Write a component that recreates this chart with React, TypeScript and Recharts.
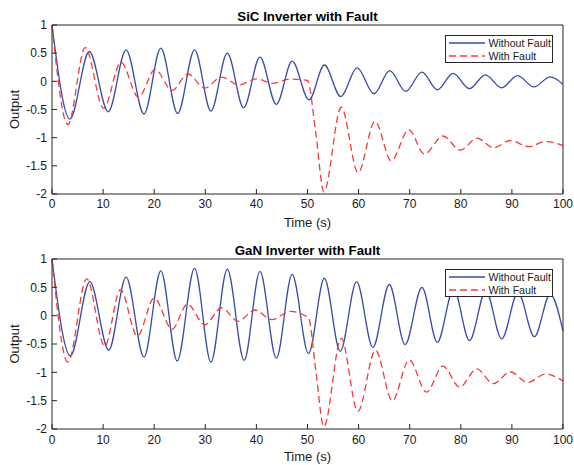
import React from "react";
import { LineChart, Line, XAxis, YAxis, Legend } from "recharts";

const FONT = "'Liberation Sans', Arial, Helvetica, sans-serif";
const AXIS = "#262626";
const BLUE = "#3A4BA6";
const RED = "#F23C3C";

const xTicks = [0, 10, 20, 30, 40, 50, 60, 70, 80, 90, 100];
const yTicks = [-2, -1.5, -1, -0.5, 0, 0.5, 1];

// SiC panel, read peak by peak off the plot
const sicCleanT = [0, 3.5, 7.3, 11.0, 14.5, 18.0, 21.3, 24.6, 27.9, 31.1, 34.3, 37.5, 40.7, 43.9, 47.0, 50.3, 53.3, 56.5, 59.7, 63.0, 66.1, 69.2, 72.4, 75.4, 78.5, 81.7, 84.8, 88.0, 91.1, 94.3, 97.5, 100];
const sicCleanY = [1, -0.67, 0.53, -0.54, 0.56, -0.58, 0.59, -0.57, 0.56, -0.53, 0.5, -0.47, 0.43, -0.41, 0.36, -0.33, 0.29, -0.27, 0.24, -0.22, 0.19, -0.18, 0.165, -0.15, 0.14, -0.13, 0.115, -0.115, 0.1, -0.1, 0.08, -0.05];
const sicFaultT = [0, 3.1, 6.5, 10.1, 13.5, 16.9, 20.2, 23.5, 26.6, 29.9, 33.2, 36.6, 40.0, 43.2, 46.5, 50.0, 51.6, 53.2, 56.6, 59.9, 63.2, 66.4, 69.8, 72.9, 76.5, 79.9, 83.2, 86.4, 89.7, 93.3, 96.5, 100];
const sicFaultY = [1, -0.77, 0.6, -0.48, 0.34, -0.28, 0.21, -0.16, 0.13, -0.12, 0.075, -0.065, 0.045, -0.035, 0.04, 0.015, -0.9, -1.96, -0.46, -1.62, -0.71, -1.41, -0.86, -1.29, -0.97, -1.22, -1.01, -1.18, -1.05, -1.16, -1.07, -1.14];

// GaN panel
const ganCleanT = [0, 3.6, 7.4, 11.1, 14.5, 18.0, 21.3, 24.5, 27.9, 31.1, 34.3, 37.6, 40.7, 43.9, 47.0, 50.2, 53.3, 56.4, 59.6, 62.8, 66.0, 69.1, 72.4, 75.4, 78.6, 81.7, 84.9, 88.0, 91.2, 94.4, 97.5, 100];
const ganCleanY = [1, -0.71, 0.6, -0.61, 0.68, -0.73, 0.79, -0.8, 0.84, -0.82, 0.82, -0.79, 0.78, -0.75, 0.73, -0.67, 0.66, -0.63, 0.6, -0.56, 0.55, -0.51, 0.5, -0.47, 0.47, -0.44, 0.44, -0.41, 0.41, -0.37, 0.38, -0.27];
const ganFaultT = [0, 3.1, 6.8, 10.3, 13.4, 16.7, 20.0, 23.5, 26.5, 29.9, 33.2, 36.4, 39.7, 43.0, 46.6, 50.2, 51.6, 53.2, 56.6, 59.85, 63.3, 66.6, 69.9, 73.3, 76.5, 79.8, 83.1, 86.4, 89.7, 93.1, 96.5, 100];
const ganFaultY = [1, -0.82, 0.65, -0.54, 0.46, -0.36, 0.31, -0.24, 0.205, -0.16, 0.14, -0.1, 0.1, -0.07, 0.075, -0.04, -0.95, -1.96, -0.4, -1.69, -0.61, -1.5, -0.78, -1.35, -0.89, -1.26, -0.94, -1.2, -0.99, -1.18, -1.03, -1.15];

const seriesNames = ["Without Fault", "With Fault"];

const toPoints = (t: number[], v: number[]) => t.map((x, i) => ({ t: x, v: v[i] }));

const LegendBox = ({ payload }: any) => {
  const items = [...(payload || [])].sort(
    (a: any, b: any) => seriesNames.indexOf(a.value) - seriesNames.indexOf(b.value)
  );
  return (
    <div
      style={{
        width: 108,
        height: 28,
        boxSizing: "border-box",
        border: `1px solid ${AXIS}`,
        background: "#fff",
        position: "relative",
        fontFamily: FONT,
        fontSize: 10.6,
        color: "#1a1a1a",
      }}
    >
      {items.map((p: any, i: number) => (
        <div
          key={p.value}
          style={{
            position: "absolute",
            left: 3,
            top: 0.7 + i * 13.3,
            height: 12,
            display: "flex",
            alignItems: "center",
            whiteSpace: "nowrap",
          }}
        >
          <svg width={36} height={4} style={{ display: "block" }}>
            <line
              x1={0}
              y1={2}
              x2={36}
              y2={2}
              stroke={p.color}
              strokeWidth={1.3}
              strokeDasharray={p.value === "With Fault" ? "7 4" : undefined}
            />
          </svg>
          <span style={{ marginLeft: 3.5, lineHeight: "12px" }}>{p.value}</span>
        </div>
      ))}
    </div>
  );
};

type PanelProps = {
  title: string;
  clean: { t: number; v: number }[];
  fault: { t: number; v: number }[];
  height: number;
  marginTop: number;
  axisHeight: number;
  tickGap: number;
  titleOffset: number;
  labelOffset: number;
  legendTop: number;
};

const Panel = (p: PanelProps) => (
  <LineChart
    width={574}
    height={p.height}
    margin={{ top: p.marginTop, right: 10, bottom: 0, left: 0 }}
    style={{ fontFamily: FONT }}
  >
    <XAxis
      xAxisId="b"
      type="number"
      dataKey="t"
      domain={[0, 100]}
      ticks={xTicks}
      interval={0}
      height={p.axisHeight}
      tickSize={-5}
      tickMargin={p.tickGap}
      stroke={AXIS}
      tick={{ fontSize: 12, fill: "#1a1a1a" }}
      label={{ value: "Time (s)", position: "insideBottom", offset: p.labelOffset, fontSize: 13, fill: "#1a1a1a" }}
    />
    <XAxis
      xAxisId="t"
      orientation="top"
      type="number"
      domain={[0, 100]}
      ticks={xTicks}
      interval={0}
      height={1}
      tickSize={-5}
      tick={false}
      stroke={AXIS}
      label={{ value: p.title, position: "top", offset: p.titleOffset, fontSize: 13.3, fontWeight: "bold", fill: "#000" }}
    />
    <YAxis
      yAxisId="l"
      type="number"
      domain={[-2, 1]}
      ticks={yTicks}
      interval={0}
      width={52}
      tickSize={-5}
      tickMargin={10}
      stroke={AXIS}
      tick={{ fontSize: 12, fill: "#1a1a1a" }}
      label={{ value: "Output", angle: -90, position: "insideLeft", offset: 14, fontSize: 13, fill: "#1a1a1a", style: { textAnchor: "middle" } }}
    />
    <YAxis
      yAxisId="r"
      orientation="right"
      type="number"
      domain={[-2, 1]}
      ticks={yTicks}
      interval={0}
      width={1}
      tickSize={-5}
      tick={false}
      stroke={AXIS}
    />
    <Legend
      layout="horizontal"
      verticalAlign="middle"
      align="center"
      content={<LegendBox />}
      wrapperStyle={{ left: 445, top: p.legendTop, width: 108 }}
    />
    <Line
      xAxisId="b"
      yAxisId="l"
      data={p.clean}
      dataKey="v"
      name={seriesNames[0]}
      type="monotone"
      stroke={BLUE}
      strokeWidth={1.3}
      dot={false}
      isAnimationActive={false}
    />
    <Line
      xAxisId="b"
      yAxisId="l"
      data={p.fault}
      dataKey="v"
      name={seriesNames[1]}
      type="monotone"
      stroke={RED}
      strokeWidth={1.3}
      strokeDasharray="7 4"
      dot={false}
      isAnimationActive={false}
    />
  </LineChart>
);

export default function App() {
  return (
    <div style={{ position: "absolute", left: 0, top: 0, width: 574, height: 465, background: "#fff" }}>
      <Panel
        title="SiC Inverter with Fault"
        clean={toPoints(sicCleanT, sicCleanY)}
        fault={toPoints(sicFaultT, sicFaultY)}
        height={232}
        marginTop={24}
        axisHeight={38}
        tickGap={10}
        titleOffset={3.5}
        labelOffset={5.5}
        legendTop={35}
      />
      <Panel
        title="GaN Inverter with Fault"
        clean={toPoints(ganCleanT, ganCleanY)}
        fault={toPoints(ganFaultT, ganFaultY)}
        height={233}
        marginTop={26}
        axisHeight={36}
        tickGap={11}
        titleOffset={3.2}
        labelOffset={3.8}
        legendTop={37.3}
      />
    </div>
  );
}
